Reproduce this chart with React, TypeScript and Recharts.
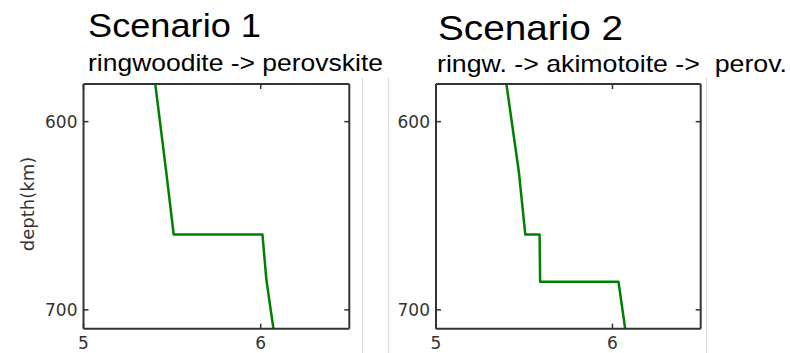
import React from 'react';
import { LineChart, Line, XAxis, YAxis } from 'recharts';

// Scenario 1: ringwoodite -> perovskite
const s1Velocity = [5.405, 5.466, 5.509, 6.01, 6.032, 6.072];
const s1Depth = [580, 626, 660, 660, 684, 710];

// Scenario 2: ringw. -> akimotoite -> perov.
const s2Velocity = [5.399, 5.47, 5.506, 5.587, 5.59, 6.034, 6.072];
const s2Depth = [580, 627, 660, 660, 685, 685, 710];

const xTicks = [5, 6];
const yTicks = [600, 700];
const xDomain = [5, 6.5];
const yDomain = [580, 710];

const titles = ['Scenario 1', 'Scenario 2'];
const subtitles = ['ringwoodite -> perovskite', 'ringw. -> akimotoite ->  perov.'];
const yLabel = 'depth(km)';

const build = (v: number[], d: number[]) => v.map((x, i) => ({ v: x, depth: d[i] }));
const data1 = build(s1Velocity, s1Depth);
const data2 = build(s2Velocity, s2Depth);

const AXIS = '#333';
const TL = 5; // inward tick length
const H = 353;
const TOP = 83;
const XAXIS_H = 24.3;
const labelStyle: React.CSSProperties = { fontFamily: 'DejaVu Sans', fontSize: '17px', fill: '#333' };

function Panel({ data, width, yAxisWidth, marginRight }: { data: any[]; width: number; yAxisWidth: number; marginRight: number }) {
  const plotLeft = yAxisWidth;
  const plotRight = width - marginRight - 1;
  const plotTop = TOP + 1;
  const plotBottom = H - XAXIS_H;

  const XTick = (props: any) => {
    const { x, payload } = props;
    return (
      <g>
        <line x1={x} x2={x} y1={plotBottom} y2={plotBottom - TL} stroke={AXIS} strokeWidth={1.5} />
        <text x={x} y={plotBottom + 8} textAnchor="middle" dy="0.71em" style={labelStyle}>
          {payload.value}
        </text>
      </g>
    );
  };
  const YTick = (props: any) => {
    const { y, payload } = props;
    return (
      <g>
        <line x1={plotLeft} x2={plotLeft + TL} y1={y} y2={y} stroke={AXIS} strokeWidth={1.5} />
        <text x={plotLeft - 6} y={y} textAnchor="end" dy="0.355em" style={labelStyle}>
          {payload.value}
        </text>
      </g>
    );
  };
  const TopTick = (props: any) => {
    const { x } = props;
    return <line x1={x} x2={x} y1={plotTop} y2={plotTop + TL} stroke={AXIS} strokeWidth={1.5} />;
  };
  const RightTick = (props: any) => {
    const { y } = props;
    return <line x1={plotRight - TL} x2={plotRight} y1={y} y2={y} stroke={AXIS} strokeWidth={1.5} />;
  };

  return (
    <LineChart
      width={width}
      height={H}
      data={data}
      margin={{ top: TOP, right: marginRight, bottom: 0, left: 0 }}
    >
      <XAxis
        xAxisId="b"
        dataKey="v"
        type="number"
        domain={xDomain}
        ticks={xTicks}
        allowDataOverflow
        height={XAXIS_H}
        stroke={AXIS}
        strokeWidth={2}
        tickLine={false}
        tickSize={0}
        tick={(p: any) => <XTick {...p} />}
      />
      <XAxis
        xAxisId="t"
        dataKey="v"
        type="number"
        orientation="top"
        domain={xDomain}
        ticks={xTicks}
        allowDataOverflow
        height={1}
        stroke={AXIS}
        strokeWidth={2}
        tickLine={false}
        tickSize={0}
        tick={(p: any) => <TopTick {...p} />}
      />
      <YAxis
        yAxisId="l"
        type="number"
        domain={yDomain}
        ticks={yTicks}
        reversed
        allowDataOverflow
        width={yAxisWidth}
        stroke={AXIS}
        strokeWidth={2}
        tickLine={false}
        tickSize={0}
        tick={(p: any) => <YTick {...p} />}
      />
      <YAxis
        yAxisId="r"
        type="number"
        orientation="right"
        domain={yDomain}
        ticks={yTicks}
        reversed
        allowDataOverflow
        width={1}
        stroke={AXIS}
        strokeWidth={2}
        tickLine={false}
        tickSize={0}
        tick={(p: any) => <RightTick {...p} />}
      />
      <Line
        xAxisId="b"
        yAxisId="l"
        dataKey="depth"
        stroke="#008000"
        strokeWidth={2.5}
        dot={false}
        isAnimationActive={false}
        strokeLinejoin="round"
      />
    </LineChart>
  );
}

export default function App() {
  return (
    <div style={{ position: 'absolute', left: 0, top: 0, width: 790, height: 353, background: '#fff', overflow: 'hidden' }}>
      <svg width={790} height={353} style={{ position: 'absolute', left: 0, top: 0 }}>
        <line x1={362.5} x2={362.5} y1={78} y2={353} stroke="#d8d8d8" strokeWidth={1} />
        <line x1={388.5} x2={388.5} y1={78} y2={353} stroke="#d8d8d8" strokeWidth={1} />
        <line x1={706.5} x2={706.5} y1={78} y2={353} stroke="#d8d8d8" strokeWidth={1} />
        <g fontFamily="'Liberation Sans', Arial, sans-serif" fill="#000">
          <text x={88} y={37} fontSize={33} textLength={173} lengthAdjust="spacingAndGlyphs">{titles[0]}</text>
          <text x={88} y={71} fontSize={24} textLength={295} lengthAdjust="spacingAndGlyphs" style={{ whiteSpace: 'pre' }}>{subtitles[0]}</text>
          <text x={438} y={40} fontSize={35} textLength={185} lengthAdjust="spacingAndGlyphs">{titles[1]}</text>
          <text x={437} y={72} fontSize={24} textLength={350} lengthAdjust="spacingAndGlyphs" style={{ whiteSpace: 'pre' }}>{subtitles[1]}</text>
        </g>
        <text
          x={27}
          y={204}
          transform="rotate(-90 27 204)"
          textAnchor="middle"
          dominantBaseline="central"
          fontFamily="DejaVu Sans"
          fontSize={18}
          fill="#333"
        >
          {yLabel}
        </text>
      </svg>
      <div style={{ position: 'absolute', left: 0, top: 0 }}>
        <Panel data={data1} width={362} yAxisWidth={83.5} marginRight={11.7} />
      </div>
      <div style={{ position: 'absolute', left: 362, top: 0 }}>
        <Panel data={data2} width={428} yAxisWidth={74} marginRight={88.3} />
      </div>
    </div>
  );
}
